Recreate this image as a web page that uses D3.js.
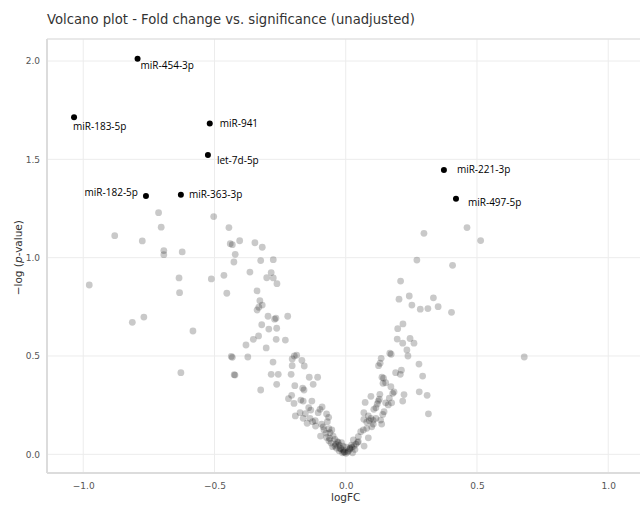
<!DOCTYPE html>
<html>
<head>
<meta charset="utf-8">
<script src="https://cdn.jsdelivr.net/npm/d3@7"></script>
<style>
  body { margin: 0; background: #fff; }
  text { font-family: "DejaVu Sans", Verdana, sans-serif; }
</style>
</head>
<body>
<svg id="chart" width="640" height="506"></svg>
<script>
// non-significant miRNAs: logFC and -log10(p)
const grayFC = [-0.713,-0.703,-0.880,-0.775,-0.503,-0.693,-0.693,-0.623,-0.635,-0.512,-0.977,-0.633,-0.813,-0.769,-0.582,-0.628,
  -0.445,-0.440,-0.432,-0.404,-0.346,-0.318,-0.421,-0.426,-0.324,-0.276,-0.365,-0.284,-0.464,-0.301,-0.276,-0.262,-0.453,-0.338,
  -0.327,-0.318,-0.331,-0.338,-0.296,-0.266,-0.271,-0.221,-0.320,-0.293,-0.263,-0.332,-0.352,-0.265,-0.230,-0.380,-0.303,-0.436,
  -0.432,-0.373,-0.425,-0.422,-0.324,-0.277,-0.284,-0.257,-0.263,-0.196,-0.187,-0.204,-0.167,-0.158,-0.204,-0.208,-0.139,-0.107,
  -0.194,-0.164,-0.159,-0.124,-0.206,-0.218,-0.197,-0.171,-0.162,-0.129,-0.141,-0.133,-0.192,-0.174,-0.162,-0.154,-0.098,-0.090,
  -0.105,-0.073,-0.065,-0.070,-0.136,-0.126,-0.116,-0.147,-0.115,-0.092,-0.086,-0.064,-0.053,-0.060,-0.096,-0.073,-0.064,-0.048,
  -0.041,-0.032,-0.025,-0.016,-0.050,-0.035,-0.025,-0.012,0.001,-0.056,-0.041,-0.018,-0.007,0.008,0.016,0.024,-0.075,-0.083,
  0.245,0.260,0.196,0.217,0.233,0.237,0.168,0.173,0.135,0.131,0.125,0.279,0.293,0.190,0.212,0.208,0.138,0.144,0.142,0.152,
  0.172,0.280,0.310,0.222,0.217,0.179,0.184,0.166,0.175,0.130,0.128,0.096,0.124,0.120,0.074,0.152,0.162,0.107,0.115,0.146,
  0.141,0.069,0.315,0.086,0.096,0.090,0.069,0.080,0.105,0.115,0.133,0.137,0.099,0.105,0.080,0.067,0.057,0.048,0.086,0.048,
  0.039,0.029,0.022,0.016,0.003,-0.010,0.070,-0.010,0.035,0.026,0.298,0.462,0.514,0.271,0.407,0.209,0.203,0.242,0.252,0.334,
  0.352,0.284,0.313,0.403,0.218,0.198,0.680,
  -0.038,-0.021,-0.004,0.011,0.031,-0.029,0.045,-0.061];
const grayP = [1.229,1.155,1.112,1.085,1.209,1.036,1.015,1.029,0.897,0.892,0.861,0.822,0.671,0.698,0.627,0.415,
  1.153,1.071,1.066,1.086,1.076,1.053,1.017,0.978,0.985,0.990,0.927,0.924,0.910,0.898,0.897,0.868,0.819,0.831,
  0.781,0.759,0.748,0.734,0.702,0.692,0.687,0.702,0.659,0.637,0.641,0.602,0.585,0.585,0.581,0.556,0.541,0.498,
  0.493,0.495,0.405,0.403,0.327,0.469,0.407,0.407,0.356,0.500,0.504,0.485,0.478,0.449,0.451,0.407,0.392,0.392,
  0.349,0.336,0.327,0.356,0.300,0.283,0.259,0.276,0.271,0.271,0.237,0.225,0.195,0.212,0.183,0.207,0.229,0.241,
  0.212,0.205,0.188,0.166,0.183,0.166,0.171,0.158,0.144,0.153,0.140,0.130,0.124,0.110,0.093,0.086,0.069,0.093,
  0.076,0.064,0.047,0.059,0.039,0.031,0.018,0.008,0.005,0.057,0.042,0.027,0.012,0.012,0.027,0.037,0.108,0.124,
  0.589,0.565,0.586,0.565,0.531,0.500,0.514,0.509,0.488,0.463,0.451,0.459,0.398,0.415,0.428,0.407,0.392,0.387,0.361,0.364,
  0.344,0.318,0.300,0.304,0.271,0.310,0.317,0.285,0.262,0.305,0.280,0.295,0.271,0.256,0.264,0.262,0.251,0.229,0.237,0.217,
  0.203,0.212,0.206,0.195,0.183,0.171,0.178,0.164,0.173,0.183,0.174,0.154,0.140,0.154,0.132,0.124,0.115,0.090,0.084,0.064,
  0.052,0.073,0.047,0.031,0.036,0.042,0.042,0.022,0.025,0.008,1.124,1.153,1.087,0.988,0.961,0.881,0.789,0.805,0.759,0.796,
  0.751,0.738,0.741,0.722,0.663,0.639,0.495,
  0.051,0.030,0.011,0.019,0.041,0.061,0.061,0.081];

// labelled hits
const hitNames = ["miR-454-3p","miR-183-5p","miR-941","let-7d-5p","miR-182-5p","miR-363-3p","miR-221-3p","miR-497-5p"];
const hitFC = [-0.793,-1.035,-0.518,-0.525,-0.761,-0.628,0.374,0.420];
const hitP = [2.011,1.714,1.682,1.522,1.314,1.320,1.446,1.299];

const xTicks = [-1, -0.5, 0, 0.5, 1];
const yTicks = [0, 0.5, 1, 1.5, 2];

// label placement relative to the dot (px)
const labelPos = [[3,7,"start"],[-1,9.5,"start"],[10,0,"start"],[9,5,"start"],
                  [-8,-3,"end"],[8,0,"start"],[13,0,"start"],[12,4,"start"]];

var margin = {top: 39, right: 0, bottom: 33, left: 47},
    width = 640 - margin.left - margin.right,
    height = 506 - margin.top - margin.bottom;

var svg = d3.select("#chart");
var g = svg.append("g")
    .attr("transform", "translate(" + margin.left + "," + margin.top + ")");

var x = d3.scaleLinear().domain([-1.138, 1.121]).range([0, width]);
var y = d3.scaleLinear().domain([-0.095, 2.112]).range([height, 0]);

// grid
g.selectAll(".vgrid").data(xTicks).enter().append("line")
    .attr("x1", d => x(d)).attr("x2", d => x(d))
    .attr("y1", 0).attr("y2", height)
    .attr("stroke", "#ececec").attr("stroke-width", 1);
g.selectAll(".hgrid").data(yTicks).enter().append("line")
    .attr("x1", 0).attr("x2", width)
    .attr("y1", d => y(d)).attr("y2", d => y(d))
    .attr("stroke", "#ececec").attr("stroke-width", 1);

// frame
g.append("line").attr("x1", 0).attr("x2", width).attr("y1", 0).attr("y2", 0)
    .attr("stroke", "#e2e2e2").attr("stroke-width", 1.5);
g.append("line").attr("x1", 0).attr("x2", 0).attr("y1", 0).attr("y2", height)
    .attr("stroke", "#dcdcdc").attr("stroke-width", 2);
g.append("line").attr("x1", 0).attr("x2", width).attr("y1", height).attr("y2", height)
    .attr("stroke", "#dcdcdc").attr("stroke-width", 2);

// axes (labels only)
var fmt = d => d === 0 ? "0.0" : d3.format(".1f")(d).replace("-", "\u2212");
var xAxis = g.append("g")
    .attr("transform", "translate(0," + height + ")")
    .call(d3.axisBottom(x).tickValues(xTicks).tickFormat(fmt).tickSize(0).tickPadding(10));
var yAxis = g.append("g")
    .call(d3.axisLeft(y).tickValues(yTicks).tickFormat(fmt).tickSize(0).tickPadding(7));
[xAxis, yAxis].forEach(a => {
  a.select(".domain").remove();
  a.selectAll("text")
    .attr("fill", "#555")
    .style("font-family", "'DejaVu Sans', Verdana, sans-serif")
    .style("font-size", "9px");
});

// points
var gray = d3.range(grayFC.length).map(i => ({fc: grayFC[i], p: grayP[i]}));
g.selectAll(".pt").data(gray).enter().append("circle")
    .attr("cx", d => x(d.fc))
    .attr("cy", d => y(d.p))
    .attr("r", 3.4)
    .attr("fill", "#000")
    .attr("fill-opacity", 0.21);

var hits = hitNames.map((n, i) => ({name: n, fc: hitFC[i], p: hitP[i], pos: labelPos[i]}));
g.selectAll(".hit").data(hits).enter().append("circle")
    .attr("cx", d => x(d.fc))
    .attr("cy", d => y(d.p))
    .attr("r", 3)
    .attr("fill", "#000");
g.selectAll(".hitlab").data(hits).enter().append("text")
    .attr("x", d => x(d.fc) + d.pos[0])
    .attr("y", d => y(d.p) + d.pos[1])
    .attr("dy", "0.35em")
    .attr("text-anchor", d => d.pos[2])
    .style("font-family", "'Open Sans', sans-serif")
    .style("font-size", "10px")
    .attr("fill", "#000")
    .text(d => d.name);

// titles
svg.append("text")
    .attr("x", 47).attr("y", 24)
    .attr("fill", "#333")
    .style("font-size", "13.2px")
    .text("Volcano plot - Fold change vs. significance (unadjusted)");

svg.append("text")
    .attr("x", margin.left + x(0)).attr("y", 501)
    .attr("text-anchor", "middle")
    .attr("fill", "#333")
    .style("font-size", "10.5px")
    .text("logFC");

var yt = svg.append("text")
    .attr("transform", "translate(22," + (margin.top + y(1)) + ") rotate(-90)")
    .attr("text-anchor", "middle")
    .attr("fill", "#333")
    .style("font-size", "10.5px");
yt.append("tspan").text("\u2212log (");
yt.append("tspan").style("font-style", "italic").text("p");
yt.append("tspan").text("-value)");
</script>
</body>
</html>
